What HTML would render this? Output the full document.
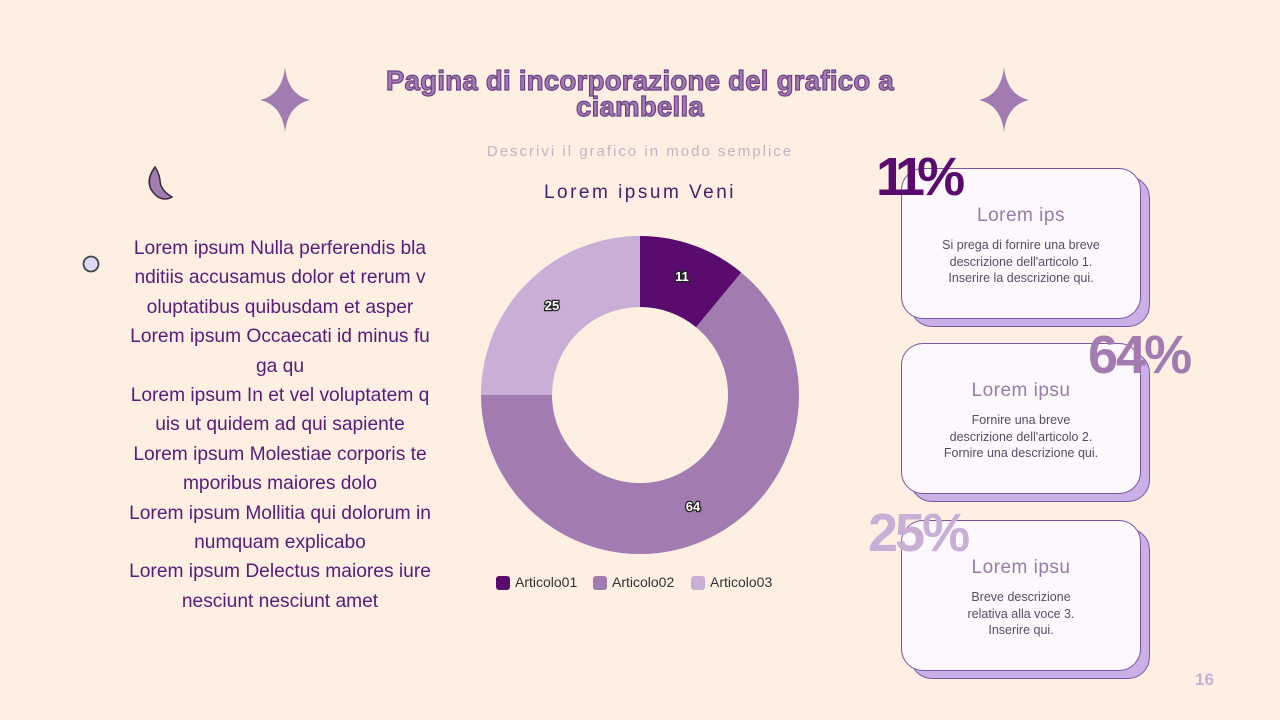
<!DOCTYPE html>
<html><head><meta charset="utf-8"><style>
body{margin:0;width:1280px;height:720px;background:#fdf0e3;position:relative;overflow:hidden;font-family:"Liberation Sans",sans-serif}
.abs{position:absolute}
.title{left:330px;width:620px;top:68px;text-align:center;font-weight:bold;font-size:27.5px;line-height:26px;color:#a27bb0;-webkit-text-stroke:1.2px #6e3f86;letter-spacing:0.3px}
.sub{left:440px;width:400px;top:143px;text-align:center;font-size:15px;letter-spacing:2px;color:#c9afc4}
.ctitle{left:440px;width:400px;top:182px;text-align:center;font-size:19px;letter-spacing:2.5px;color:#4b1a6b}
.left{left:100px;width:360px;top:234px;text-align:center;font-size:19.2px;line-height:29.4px;color:#5a1a7a;white-space:nowrap}
.card{width:238px;height:149px;border:1.5px solid #7e55a0;border-radius:22px;background:#fdf8fd}
.back{background:#c9b0e6}
.ch{font-size:19px;color:#9a7aa8;text-align:center;letter-spacing:0.5px}
.cd{font-size:12.5px;color:#5a4a6a;text-align:center;line-height:16.5px}
.pct{font-weight:bold;font-size:54px;letter-spacing:-4px}
</style></head><body>
<svg class="abs" style="left:0;top:0" width="1280" height="720">
<path d="M285 67 Q288 95 310 100 Q288 105 285 132 Q282 105 260 100 Q282 95 285 67Z" fill="#a27bb0"/>
<path d="M1004 67 Q1007 95 1029 100 Q1007 105 1004 132 Q1001 105 979 100 Q1001 95 1004 67Z" fill="#a27bb0"/>
<path d="M155 167 Q142 185 158 197 Q165 201 172 197 Q160 190 160 180 Q159 173 155 167Z" fill="#a27bb0" stroke="#3a2a3a" stroke-width="1.5"/>
<circle cx="91" cy="264" r="7.5" fill="#dcd9f5" stroke="#444" stroke-width="1.8"/>
<path d="M640 236 A159 159 0 0 1 741.3 272.5 L696.1 327.2 A88 88 0 0 0 640 307Z" fill="#5a0b6e"/>
<path d="M741.3 272.5 A159 159 0 1 1 481 395 L552 395 A88 88 0 1 0 696.1 327.2Z" fill="#a27bb0"/>
<path d="M481 395 A159 159 0 0 1 640 236 L640 307 A88 88 0 0 0 552 395Z" fill="#c9aed6"/>
<g font-family="Liberation Sans" font-weight="bold" font-size="13" fill="#fff" stroke="#222" stroke-width="2.5" paint-order="stroke" text-anchor="middle">
<text x="682" y="281">11</text><text x="552" y="310">25</text><text x="693" y="511">64</text></g>
<g font-family="Liberation Sans" font-size="14" fill="#333">
<rect x="496" y="576" width="14" height="14" rx="3" fill="#5a0b6e"/><text x="515" y="587">Articolo01</text>
<rect x="593" y="576" width="14" height="14" rx="3" fill="#a27bb0"/><text x="612" y="587">Articolo02</text>
<rect x="691" y="576" width="14" height="14" rx="3" fill="#c9aed6"/><text x="710" y="587">Articolo03</text></g>
</svg>
<div class="abs title">Pagina di incorporazione del grafico a<br>ciambella</div>
<div class="abs sub">Descrivi il grafico in modo semplice</div>
<div class="abs ctitle">Lorem ipsum Veni</div>
<div class="abs left">Lorem ipsum Nulla perferendis bla<br>nditiis accusamus dolor et rerum v<br>oluptatibus quibusdam et asper<br>Lorem ipsum Occaecati id minus fu<br>ga qu<br>Lorem ipsum In et vel voluptatem q<br>uis ut quidem ad qui sapiente<br>Lorem ipsum Molestiae corporis te<br>mporibus maiores dolo<br>Lorem ipsum Mollitia qui dolorum in<br>numquam explicabo<br>Lorem ipsum Delectus maiores iure<br>nesciunt nesciunt amet</div>

<div class="abs card back" style="left:910px;top:176px"></div>
<div class="abs card" style="left:901px;top:168px"><div class="ch" style="margin-top:36px">Lorem ips</div><div class="cd" style="margin-top:10px">Si prega di fornire una breve<br>descrizione dell'articolo 1.<br>Inserire la descrizione qui.</div></div>
<div class="abs card back" style="left:910px;top:351px"></div>
<div class="abs card" style="left:901px;top:343px"><div class="ch" style="margin-top:36px">Lorem ipsu</div><div class="cd" style="margin-top:10px">Fornire una breve<br>descrizione dell'articolo 2.<br>Fornire una descrizione qui.</div></div>
<div class="abs card back" style="left:910px;top:528px"></div>
<div class="abs card" style="left:901px;top:520px"><div class="ch" style="margin-top:36px">Lorem ipsu</div><div class="cd" style="margin-top:10px">Breve descrizione<br>relativa alla voce 3.<br>Inserire qui.</div></div>

<div class="abs pct" style="left:876px;top:146px;color:#5a0b6e;letter-spacing:-8px">11%</div>
<div class="abs pct" style="left:1088px;top:324px;color:#a27bb0;letter-spacing:-2px">64%</div>
<div class="abs pct" style="left:868px;top:502px;color:#c9aed6;letter-spacing:-3px">25%</div>
<div class="abs" style="left:1195px;top:670px;font-weight:bold;font-size:17px;color:#c9aed6">16</div>
</body></html>
